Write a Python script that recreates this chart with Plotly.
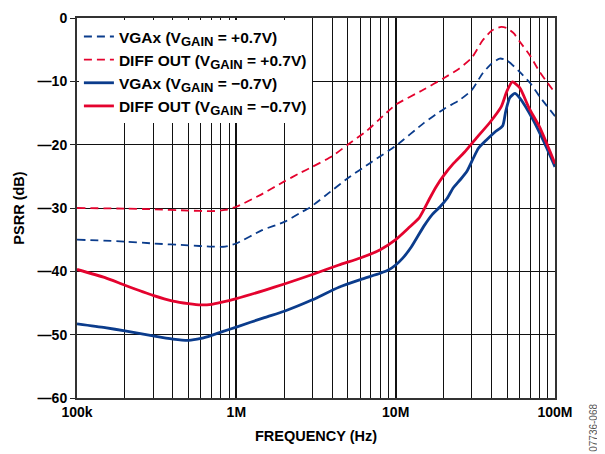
import plotly.graph_objects as go

# ---- data (frequency in Hz, PSRR in dB) ----
freq_vga_p = [1e5, 2e5, 3e5, 5e5, 7e5, 8.5e5, 1e6, 1.45e6, 2e6, 2.5e6, 2.9e6, 4e6, 5e6, 7e6, 1e7,
              1.5e7, 2e7, 2.5e7, 3e7, 3.5e7, 4e7, 4.5e7, 5e7, 6e7, 7e7, 8e7, 1e8]
psrr_vga_p = [-35.0, -35.3, -35.6, -35.9, -36.1, -36.1, -35.6, -33.5, -32.2, -30.8, -29.9, -27.2, -25.3, -22.8, -20.2,
              -16.6, -14.4, -13.0, -11.4, -8.8, -7.2, -6.4, -6.7, -8.5, -10.3, -12.4, -15.5]

freq_diff_p = [1e5, 2e5, 3e5, 5e5, 7e5, 8.5e5, 1e6, 1.4e6, 2e6, 2.5e6, 3e6, 4e6, 5e6, 6.6e6, 8.3e6, 1e7,
               1.5e7, 2e7, 2.5e7, 3e7, 3.5e7, 4e7, 4.6e7, 5e7, 5.5e7, 6e7, 7e7, 8e7, 1e8]
psrr_diff_p = [-30.0, -30.1, -30.2, -30.4, -30.5, -30.3, -29.8, -28.0, -25.8, -24.5, -23.5, -21.8, -20.0, -17.8, -15.5, -13.7,
               -11.3, -9.5, -8.0, -6.3, -3.6, -2.0, -1.4, -1.6, -2.4, -3.7, -6.0, -8.5, -11.8]

freq_vga_m = [1e5, 1.5e5, 2e5, 3e5, 4e5, 5e5, 6e5, 7e5, 8e5, 1e6, 1.5e6, 2e6, 3e6, 4.4e6, 6e6, 8e6, 9e6, 1e7,
              1.1e7, 1.25e7, 1.5e7, 1.7e7, 1.9e7, 2.1e7, 2.3e7, 2.55e7, 2.8e7, 3.05e7, 3.3e7, 3.7e7, 4.2e7, 4.7e7,
              4.9e7, 5.2e7, 5.6e7, 6e7, 7.3e7, 8.5e7, 1e8]
psrr_vga_m = [-48.3, -48.9, -49.4, -50.2, -50.7, -50.9, -50.6, -50.1, -49.6, -48.8, -47.3, -46.3, -44.5, -42.5, -41.3, -40.3, -39.8, -39.0,
              -38.0, -36.2, -32.9, -31.0, -29.8, -28.5, -26.8, -25.5, -24.2, -22.3, -20.6, -19.3, -18.0, -17.0,
              -14.8, -12.6, -11.9, -12.6, -16.1, -19.5, -23.5]

freq_diff_m = [1e5, 1.5e5, 2e5, 3e5, 4e5, 5e5, 6e5, 7e5, 8e5, 1e6, 1.5e6, 2e6, 3e6, 4.4e6, 6e6, 8e6, 1e7,
               1.2e7, 1.4e7, 1.5e7, 1.65e7, 1.8e7, 2e7, 2.3e7, 2.7e7, 3.2e7, 3.9e7, 4.6e7, 5e7, 5.4e7,
               6e7, 6.9e7, 8e7, 1e8]
psrr_diff_m = [-39.7, -41.0, -42.2, -43.8, -44.7, -45.1, -45.3, -45.2, -44.9, -44.3, -43.0, -42.0, -40.5, -39.0, -37.9, -36.6, -35.0,
               -33.2, -31.6, -30.3, -28.3, -26.6, -24.9, -23.0, -21.2, -19.0, -16.5, -14.0, -11.5, -10.1,
               -11.0, -14.3, -17.2, -23.0]

SUB = '<sub><span style="font-size:13px">GAIN</span></sub>'
series_names = ["VGAx (V" + SUB + " = +0.7V)", "DIFF OUT (V" + SUB + " = +0.7V)",
                "VGAx (V" + SUB + " = \u22120.7V)", "DIFF OUT (V" + SUB + " = \u22120.7V)"]

y_tickvals = [0, -10, -20, -30, -40, -50, -60]
y_ticktext = ["0", "\u201410", "\u201420", "\u201430", "\u201440", "\u201450", "\u201460"]
x_decades = [1e5, 1e6, 1e7, 1e8]
x_decade_labels = ["100k", "1M", "10M", "100M"]
x_minor = [d * m for d in x_decades[:-1] for m in range(2, 10)]

BLUE = "#0b3c8c"
RED = "#e4032e"
FONT = "Liberation Sans, Arial, sans-serif"

fig = go.Figure()
traces = [
    (freq_vga_p, psrr_vga_p, BLUE, "dash", 1.8),
    (freq_diff_p, psrr_diff_p, RED, "dash", 1.8),
    (freq_vga_m, psrr_vga_m, BLUE, "solid", 2.8),
    (freq_diff_m, psrr_diff_m, RED, "solid", 2.8),
]
for (fx, fy, col, dash, w), name in zip(traces, series_names):
    fig.add_trace(go.Scatter(
        x=fx, y=fy, mode="lines", name=name,
        line=dict(color=col, width=w, dash="8px,5px" if dash == "dash" else "solid",
                  shape="spline", smoothing=0.6),
    ))

# page body has an 8px default margin; figure offset accordingly
fig.update_layout(
    width=597, height=446,
    margin=dict(l=69, r=50, t=10, b=56),
    paper_bgcolor="white", plot_bgcolor="white",
    font=dict(family=FONT, size=14, color="black", weight="bold"),
    showlegend=True,
    legend=dict(x=0.004, y=0.995, xanchor="left", yanchor="top",
                bgcolor="white", borderwidth=0,
                font=dict(family=FONT, size=15.5, color="black", weight="bold"),
                itemwidth=30, tracegroupgap=0),
    xaxis=dict(
        type="log", range=[5, 8], automargin=False,
        tickvals=x_decades, ticktext=x_decade_labels,
        showgrid=True, gridcolor="#111", gridwidth=1.6,
        showline=True, linecolor="#333", linewidth=2, mirror="allticks",
        ticks="inside", ticklen=5, tickcolor="#111",
        minor=dict(tickvals=x_minor, showgrid=True, gridcolor="#111", gridwidth=1,
                   ticks="inside", ticklen=5, tickcolor="#111"),
        tickfont=dict(family=FONT, size=14, color="black", weight="bold"),
        title=dict(text="FREQUENCY (Hz)", standoff=12,
                   font=dict(family=FONT, size=14.5, color="black", weight="bold")),
        zeroline=False,
    ),
    yaxis=dict(
        range=[-60, 0], automargin=False,
        tickvals=y_tickvals, ticktext=y_ticktext,
        showgrid=True, gridcolor="#111", gridwidth=1.2,
        showline=True, linecolor="#333", linewidth=2, mirror=True,
        ticks="outside", ticklen=5, tickcolor="#222",
        tickfont=dict(family=FONT, size=14, color="black", weight="bold"),
        title=dict(text="PSRR (dB)", standoff=10,
                   font=dict(family=FONT, size=14.5, color="black", weight="bold")),
        zeroline=False,
    ),
)

fig.add_annotation(
    text="07736-068", xref="paper", yref="paper", x=1.0816, y=-0.01,
    xanchor="center", yanchor="top", textangle=-90, showarrow=False,
    font=dict(family=FONT, size=10, color="#555", weight="normal"),
)

fig.write_html("out.html")
